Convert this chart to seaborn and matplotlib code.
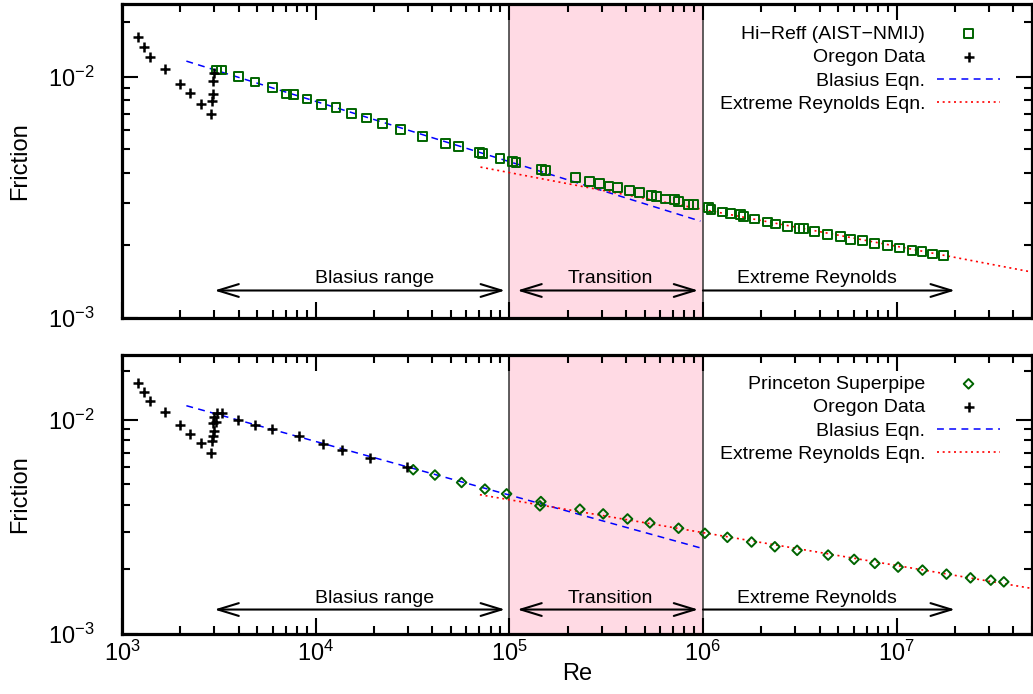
import matplotlib
matplotlib.use("Agg")
import matplotlib.pyplot as plt
import seaborn as sns
import pandas as pd
from matplotlib.ticker import FixedLocator, LogLocator, NullFormatter, LogFormatterSciNotation

# ---------------- data ----------------
hireff_re = [3083, 3271, 3985, 4860, 5970, 7086, 7663, 9018, 10690, 12730, 15270, 18250,
             22070, 27470, 35510, 46900, 54720, 69930, 72460, 89430, 104000, 108200,
             146100, 154500, 220000, 258500, 291200, 326800, 362400, 419400, 468400,
             540200, 576100, 638100, 715900, 750700, 842700, 897400, 1.064e6, 1.099e6,
             1.256e6, 1.388e6, 1.564e6, 1.613e6, 1.839e6, 2.146e6, 2.379e6, 2.721e6,
             3.139e6, 3.292e6, 3.782e6, 4.399e6, 5.133e6, 5.781e6, 6.636e6, 7.654e6,
             8.976e6, 1.039e7, 1.202e7, 1.354e7, 1.532e7, 1.753e7]
hireff_f = [0.01066, 0.01066, 0.01000, 0.00951, 0.00904, 0.00848, 0.00845, 0.00808,
            0.00765, 0.00744, 0.00705, 0.00674, 0.00642, 0.00605, 0.00565, 0.00529,
            0.00512, 0.00486, 0.00481, 0.00459, 0.00446, 0.00441, 0.00413, 0.00407,
            0.00383, 0.00368, 0.00361, 0.00352, 0.00348, 0.00337, 0.00331, 0.00323,
            0.00319, 0.00311, 0.00309, 0.00305, 0.00296, 0.00296, 0.00287, 0.00282,
            0.00275, 0.00271, 0.00268, 0.00263, 0.00257, 0.00250, 0.00245, 0.00240,
            0.00235, 0.00234, 0.00229, 0.00222, 0.00217, 0.00212, 0.00209, 0.00204,
            0.00199, 0.00195, 0.00191, 0.00188, 0.00184, 0.00181]

oregon_top_re = [1214, 1299, 1395, 1667, 1993, 2244, 2557, 2871, 2915, 2961, 2961, 2996]
oregon_top_f = [0.01466, 0.01332, 0.01211, 0.01076, 0.00935, 0.00853, 0.00773, 0.00700,
                0.00793, 0.00848, 0.00963, 0.01033]

oregon_bot_re = [1214, 1299, 1395, 1667, 1993, 2244, 2557, 2871, 2915, 2950, 2996, 2961,
                 3046, 2974, 3078, 3294, 3956, 4860, 5970, 8230, 10870, 13620, 19070, 29500]
oregon_bot_f = [0.01474, 0.01338, 0.01214, 0.01082, 0.00940, 0.00853, 0.00774, 0.00701,
                0.00797, 0.00835, 0.00885, 0.00965, 0.00971, 0.01029, 0.01075, 0.01075,
                0.01000, 0.00948, 0.00908, 0.00841, 0.00772, 0.00724, 0.00664, 0.00598]

princeton_re = [31900, 41290, 56700, 74820, 96850, 145600, 143900, 231500, 305300, 407900,
                531900, 748200, 1.023e6, 1.337e6, 1.782e6, 2.351e6, 3.064e6, 4.43e6,
                6.034e6, 7.718e6, 1.018e7, 1.36e7, 1.81e7, 2.407e7, 3.064e7, 3.577e7]
princeton_f = [0.005833, 0.005510, 0.005086, 0.004737, 0.004503, 0.004145, 0.003958,
               0.003819, 0.003630, 0.003440, 0.003295, 0.003112, 0.002948, 0.002823,
               0.002684, 0.002551, 0.002455, 0.002333, 0.002228, 0.002134, 0.002050,
               0.001985, 0.001901, 0.001827, 0.001782, 0.001750]

blasius_re = [2150, 9.7e5]
blasius_f = [0.0116, 0.00252]
extreme_top_re = [7.1e4, 5e7]
extreme_top_f = [0.00422, 0.00155]
extreme_bot_re = [7.05e4, 5e7]
extreme_bot_f = [0.00446, 0.00163]

region_labels = ["Blasius range", "Transition", "Extreme Reynolds"]
region_label_x = [2.02e4, 3.31e5, 3.86e6]

# ---------------- style ----------------
sns.set_style("ticks")
plt.rcParams["font.family"] = ["Liberation Sans", "DejaVu Sans"]
plt.rcParams["mathtext.fontset"] = "custom"
plt.rcParams["mathtext.rm"] = "Liberation Sans"
plt.rcParams["mathtext.it"] = "Liberation Sans:italic"
plt.rcParams["mathtext.bf"] = "Liberation Sans:bold"
plt.rcParams["axes.edgecolor"] = "black"
plt.rcParams["xtick.color"] = "black"
plt.rcParams["ytick.color"] = "black"
plt.rcParams["text.color"] = "black"
plt.rcParams["axes.labelcolor"] = "black"

GREEN = "#006400"
PINK = "#ffdae4"

fig = plt.figure(figsize=(10.33, 6.94), dpi=100)
ax1 = fig.add_axes([0.1181, 0.5418, 0.8809, 0.4524])
ax2 = fig.add_axes([0.1181, 0.0865, 0.8809, 0.4020])


def setup(ax, show_xlabels):
    ax.set_xscale("log")
    ax.set_yscale("log")
    ax.set_xlim(1e3, 5e7)
    ax.set_ylim(1e-3, 2e-2)
    ax.axvspan(1e5, 1e6, color=PINK, lw=0, zorder=0)
    ax.axvline(1e5, color="#333333", lw=1.1, zorder=0.5)
    ax.axvline(1e6, color="#333333", lw=1.1, zorder=0.5)
    for s in ax.spines.values():
        s.set_linewidth(2.3)
        s.set_color("black")
    ax.xaxis.set_major_locator(LogLocator(base=10, numticks=20))
    ax.xaxis.set_minor_locator(LogLocator(base=10, subs=range(2, 10), numticks=20))
    ax.xaxis.set_minor_formatter(NullFormatter())
    ax.yaxis.set_major_locator(FixedLocator([1e-3, 1e-2]))
    ax.yaxis.set_minor_locator(FixedLocator([k * 1e-3 for k in range(2, 10)] + [1.68e-2]))
    ax.yaxis.set_major_formatter(LogFormatterSciNotation())
    ax.yaxis.set_minor_formatter(NullFormatter())
    ax.tick_params(which="both", direction="in", top=True, right=True, width=1.5,
                   labelsize=17)
    ax.tick_params(which="major", length=11.5)
    ax.tick_params(which="minor", length=6)
    ax.tick_params(axis="y", which="major", pad=20)
    ax.tick_params(axis="x", which="major", pad=5, labelbottom=show_xlabels)
    ax.set_ylabel("Friction", fontsize=17)
    ax.yaxis.set_label_coords(-0.1, 0.5)
    ax.grid(False)


def arrows(ax):
    ya = 1.3e-3
    ap = dict(lw=1.5, color="black", shrinkA=0, shrinkB=0, mutation_scale=20)
    ax.annotate("", xy=(9.5e4, ya), xytext=(3.0e3, ya),
                arrowprops=dict(arrowstyle="<->,head_length=0.75,head_width=0.23", **ap))
    ax.annotate("", xy=(9.45e5, ya), xytext=(1.1e5, ya),
                arrowprops=dict(arrowstyle="<->,head_length=0.75,head_width=0.23", **ap))
    ax.annotate("", xy=(2.0e7, ya), xytext=(1.0e6, ya),
                arrowprops=dict(arrowstyle="->,head_length=0.75,head_width=0.23", **ap))
    for lab, xl in zip(region_labels, region_label_x):
        ax.text(xl, 1.39e-3, lab, ha="center", va="baseline", fontsize=14)


def draw_lines(ax, ext_re, ext_f):
    sns.lineplot(x=blasius_re, y=blasius_f, ax=ax, color="blue", lw=1.1,
                 linestyle=(0, (4.5, 3.5)), label="Blasius Eqn.", estimator=None, sort=False)
    sns.lineplot(x=ext_re, y=ext_f, ax=ax, color="red", lw=1.2,
                 linestyle=(0, (1.2, 2.2)), label="Extreme Reynolds Eqn.", estimator=None,
                 sort=False)


def make_legend(ax, anchor_y):
    h, l = ax.get_legend_handles_labels()
    ax.legend(h, l, loc="upper right", bbox_to_anchor=(0.965, anchor_y), frameon=False,
              markerfirst=False, handlelength=3.25, handletextpad=0.6, labelspacing=0.30,
              fontsize=14, borderpad=0, borderaxespad=0, scatterpoints=1)


# ---------------- top panel ----------------
setup(ax1, False)
df_h = pd.DataFrame({"Re": hireff_re, "f": hireff_f})
df_ot = pd.DataFrame({"Re": oregon_top_re, "f": oregon_top_f})
sns.scatterplot(data=df_h, x="Re", y="f", ax=ax1, marker="s", s=40, facecolor="none",
                edgecolor=GREEN, linewidth=1.4, label="Hi\u2212Reff (AIST\u2212NMIJ)", zorder=3)
sns.scatterplot(data=df_ot, x="Re", y="f", ax=ax1, marker="+", s=55, color="black",
                linewidth=1.8, label="Oregon Data", zorder=3)
draw_lines(ax1, extreme_top_re, extreme_top_f)
arrows(ax1)
make_legend(ax1, 0.933)
ax1.set_xlabel("")

# ---------------- bottom panel ----------------
setup(ax2, True)
df_p = pd.DataFrame({"Re": princeton_re, "f": princeton_f})
df_ob = pd.DataFrame({"Re": oregon_bot_re, "f": oregon_bot_f})
sns.scatterplot(data=df_p, x="Re", y="f", ax=ax2, marker="D", s=24, facecolor="none",
                edgecolor=GREEN, linewidth=1.4, label="Princeton Superpipe", zorder=3)
sns.scatterplot(data=df_ob, x="Re", y="f", ax=ax2, marker="+", s=55, color="black",
                linewidth=1.8, label="Oregon Data", zorder=3)
draw_lines(ax2, extreme_bot_re, extreme_bot_f)
arrows(ax2)
make_legend(ax2, 0.927)
ax2.set_xlabel("Re", fontsize=17)
ax2.xaxis.set_label_coords(0.5, -0.105)

fig.savefig("out.png", dpi=100)
